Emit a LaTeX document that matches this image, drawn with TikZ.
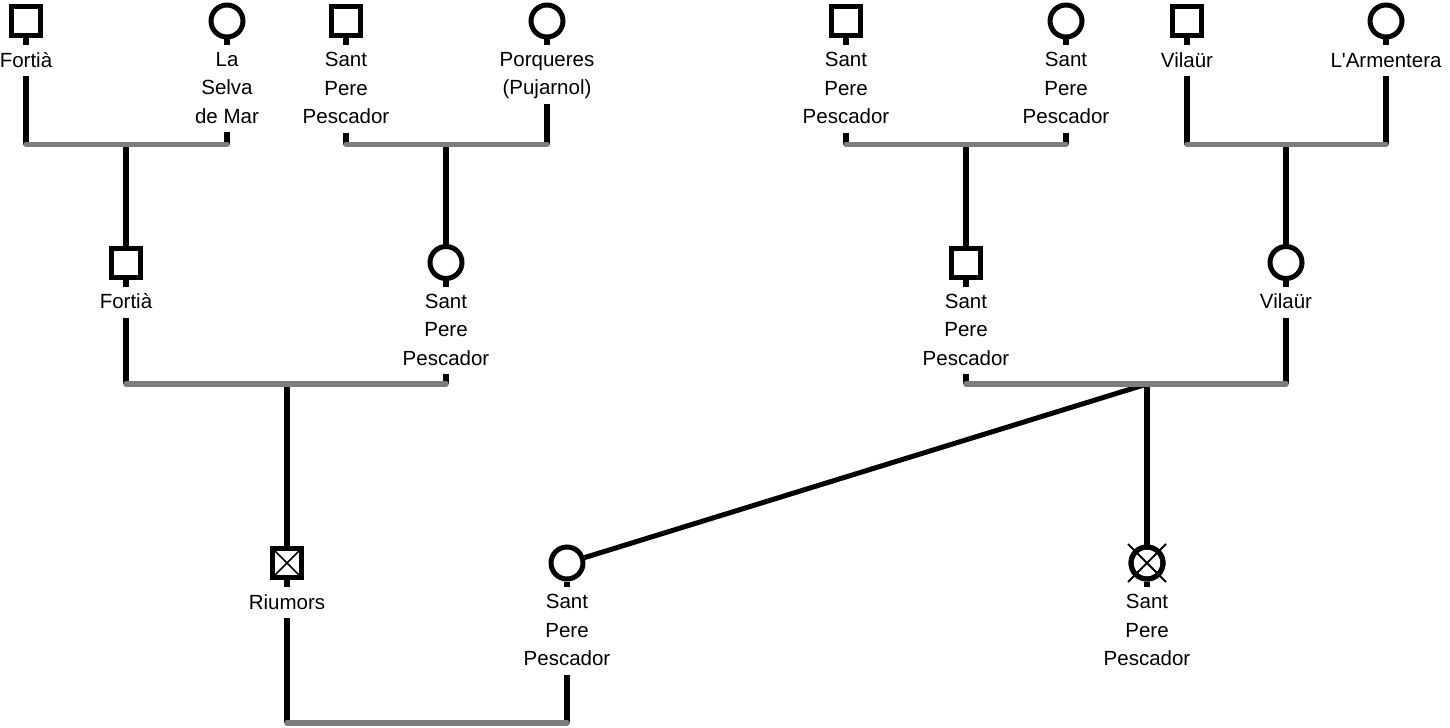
\documentclass[tikz,border=0pt]{standalone}
\usepackage{fontspec}
\newfontfamily\labfont{Liberation Sans}
\begin{document}
\begin{tikzpicture}[x=1bp,y=-1bp,
  sym/.style={draw=black,line width=5bp,fill=white,inner sep=0pt},
  male/.style={sym,rectangle,minimum size=29bp},
  female/.style={sym,circle,minimum size=32bp},
  lab/.style={anchor=north,inner sep=0pt,align=center,
    font=\labfont\fontsize{20.5bp}{28.5bp}\selectfont,
    execute at begin node=\vphantom{(},execute at end node=\vphantom{(}},
  ln/.style={draw=black,line width=5.5bp},
  stub/.style={ln,shorten >=7bp},
  down/.style={ln,shorten <=4.6bp},
  bar/.style={draw=gray!98!black,line width=5.5bp,line cap=round},
  xsq/.style={path picture={\draw[line width=1.5bp]
    (path picture bounding box.north west) -- (path picture bounding box.south east)
    (path picture bounding box.north east) -- (path picture bounding box.south west);}}
]
\fill[white] (0,0) rectangle (1450,727);
\useasboundingbox (0,0) rectangle (1450,727);

% ---------- persons: symbols ----------
\node[male]   (s1)  at (26,21)    {};
\node[female] (s2)  at (227,21)   {};
\node[male]   (s3)  at (346,21)   {};
\node[female] (s4)  at (547,21)   {};
\node[male]   (s5)  at (846,21)   {};
\node[female] (s6)  at (1066,21)  {};
\node[male]   (s7)  at (1187,21)  {};
\node[female] (s8)  at (1386,21)  {};
\node[male]   (s9)  at (126,262.5) {};
\node[female] (s10) at (446,262.5) {};
\node[male]   (s11) at (966,262.5) {};
\node[female] (s12) at (1286,262.5) {};
\node[male,xsq] (s13) at (287,563) {};
\node[female] (s14) at (567,563)  {};
\node[female] (s15) at (1147,563) {};

% ---------- labels ----------
\node[lab] (l1)  at ([yshift=-31bp]s1.center)  {Fortià};
\node[lab] (l2)  at ([yshift=-31bp]s2.center)  {La\\Selva\\de Mar};
\node[lab] (l3)  at ([yshift=-31bp]s3.center)  {Sant\\Pere\\Pescador};
\node[lab] (l4)  at ([yshift=-31bp]s4.center)  {Porqueres\\(Pujarnol)};
\node[lab] (l5)  at ([yshift=-31bp]s5.center)  {Sant\\Pere\\Pescador};
\node[lab] (l6)  at ([yshift=-31bp]s6.center)  {Sant\\Pere\\Pescador};
\node[lab] (l7)  at ([yshift=-31bp]s7.center)  {Vilaür};
\node[lab] (l8)  at ([yshift=-31bp]s8.center)  {L'Armentera};
\node[lab] (l9)  at ([yshift=-31bp]s9.center)  {Fortià};
\node[lab] (l10) at ([yshift=-31bp]s10.center) {Sant\\Pere\\Pescador};
\node[lab] (l11) at ([yshift=-31bp]s11.center) {Sant\\Pere\\Pescador};
\node[lab] (l12) at ([yshift=-31bp]s12.center) {Vilaür};
\node[lab] (l13) at ([yshift=-31bp]s13.center) {Riumors};
\node[lab] (l14) at ([yshift=-31bp]s14.center) {Sant\\Pere\\Pescador};
\node[lab] (l15) at ([yshift=-31bp]s15.center) {Sant\\Pere\\Pescador};

% ---------- bar coordinates ----------
\coordinate (b1a) at (26,144.5);  \coordinate (b1b) at (227,144.5);  \coordinate (b1m) at (126,144.5);
\coordinate (b2a) at (346,144.5); \coordinate (b2b) at (547,144.5);  \coordinate (b2m) at (446,144.5);
\coordinate (b3a) at (846,144.5); \coordinate (b3b) at (1066,144.5); \coordinate (b3m) at (966,144.5);
\coordinate (b4a) at (1187,144.5);\coordinate (b4b) at (1386,144.5); \coordinate (b4m) at (1286,144.5);
\coordinate (b5a) at (126,384);   \coordinate (b5b) at (446,384);    \coordinate (b5m) at (287,384);
\coordinate (b6a) at (966,384);   \coordinate (b6b) at (1286,384);   \coordinate (b6m) at (1147,384);
\coordinate (b7a) at (287,723);   \coordinate (b7b) at (567,723);

% ---------- stubs ----------
\foreach \i in {1,...,15} { \draw[stub] (s\i.south) -- (l\i.north); }

% ---------- lines down to marriage bars ----------
\draw[down] (l1.south) -- (b1a);  \draw[down] (l2.south) -- (b1b);
\draw[down] (l3.south) -- (b2a);  \draw[down] (l4.south) -- (b2b);
\draw[down] (l5.south) -- (b3a);  \draw[down] (l6.south) -- (b3b);
\draw[down] (l7.south) -- (b4a);  \draw[down] (l8.south) -- (b4b);
\draw[down] (l9.south) -- (b5a);  \draw[down] (l10.south) -- (b5b);
\draw[down] (l11.south) -- (b6a); \draw[down] (l12.south) -- (b6b);
\draw[down] (l13.south) -- (b7a); \draw[down] (l14.south) -- (b7b);

% ---------- lines to children ----------
\draw[ln] (b1m) -- (s9);
\draw[ln] (b2m) -- (s10);
\draw[ln] (b3m) -- (s11);
\draw[ln] (b4m) -- (s12);
\draw[ln] (b5m) -- (s13);
\draw[ln] (b6m) -- (s15);
\draw[ln,line width=5bp] (b6m) -- (s14);

% ---------- marriage bars ----------
\draw[bar] (b1a) -- (b1b);
\draw[bar] (b2a) -- (b2b);
\draw[bar] (b3a) -- (b3b);
\draw[bar] (b4a) -- (b4b);
\draw[bar] (b5a) -- (b5b);
\draw[bar] (b6a) -- (b6b);
\draw[bar] (b7a) -- (b7b);

% ---------- cross on deceased circle ----------
\draw[line width=2bp] ([shift={(-19,-19)}]s15.center) -- ([shift={(19,19)}]s15.center)
                      ([shift={(19,-19)}]s15.center) -- ([shift={(-19,19)}]s15.center);
\node[female,fill=none] (s15r) at (s15.center) {};
\end{tikzpicture}
\end{document}
